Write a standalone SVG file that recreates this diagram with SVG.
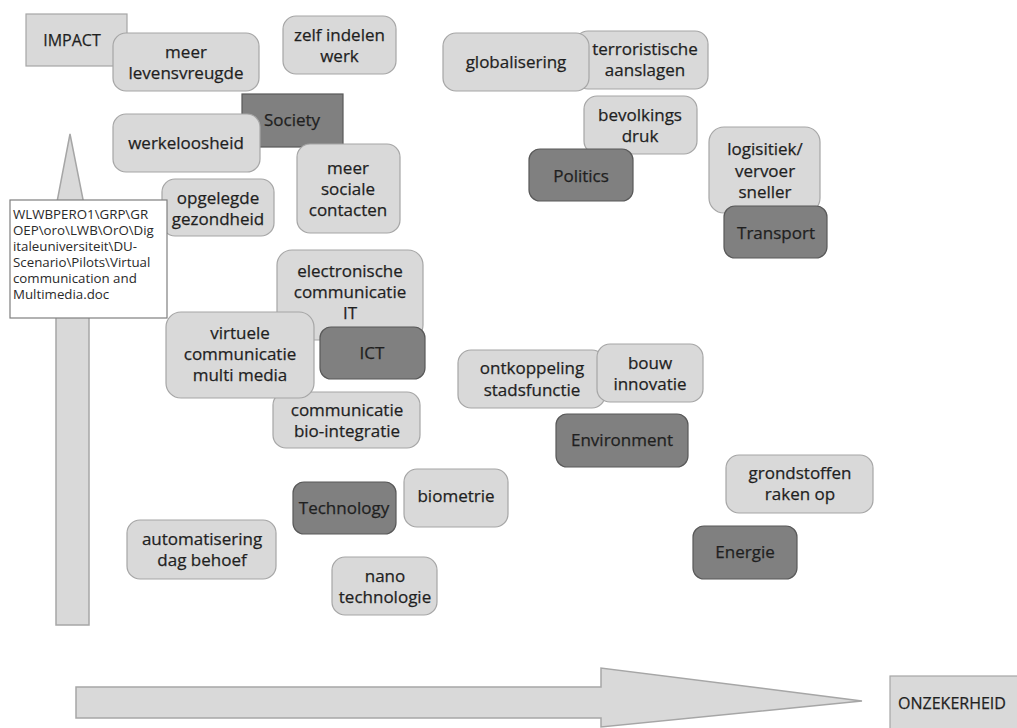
<svg xmlns="http://www.w3.org/2000/svg" width="1017" height="728" viewBox="0 0 1017 728">
  <style>
    .axis { fill: #d9d9d9; stroke: #a6a6a6; stroke-width: 1.5; }
    .lbl { fill: #d9d9d9; stroke: #a6a6a6; stroke-width: 1.2; }
    .lt { fill: #d9d9d9; stroke: #a6a6a6; stroke-width: 1.2; }
    .dk { fill: #808080; stroke: #595959; stroke-width: 1.2; }
    .note { fill: #ffffff; stroke: #7f7f7f; stroke-width: 1.2; }
    text { font-family: "Open Sans", "Liberation Sans", sans-serif; fill: #1f1f1f; stroke: #1f1f1f; stroke-width: 0.25; }
    .t { font-size: 17px; text-anchor: middle; }
    .cap { font-size: 16px; text-anchor: middle; }
    .nt { font-size: 13.3px; fill: #2a2a2a; stroke: none; }
  </style>

  <!-- axes: block arrows for impact (up) and uncertainty (right) -->
  <g id="axes">
    <path class="axis" d="M70,134 L44,270 L56,270 L56,625 L89,625 L89,270 L97,270 Z"/>
    <path class="axis" d="M76,687 L601,687 L601,668 L862,701 L601,727 L601,718 L76,718 Z"/>
  </g>

  <g id="impact">
    <rect class="lbl" x="26" y="14" width="101" height="52"/>
    <text class="cap" x="72" y="46">IMPACT</text>
  </g>
  <g id="onzekerheid">
    <rect class="lbl" x="890" y="676" width="140" height="60"/>
    <text class="cap" x="952" y="709" font-size="16.5">ONZEKERHEID</text>
  </g>

  <g id="meer-levensvreugde">
    <rect class="lt" x="113" y="33" width="146" height="58" rx="13"/>
    <text class="t"><tspan x="186" y="57.5">meer</tspan><tspan x="186" y="78.5">levensvreugde</tspan></text>
  </g>
  <g id="zelf-indelen-werk">
    <rect class="lt" x="283" y="16" width="113" height="58" rx="13"/>
    <text class="t"><tspan x="339.5" y="41">zelf indelen</tspan><tspan x="339.5" y="62">werk</tspan></text>
  </g>
  <g id="society">
    <rect class="dk" x="242" y="94" width="101" height="53"/>
    <text class="t" x="292" y="126">Society</text>
  </g>
  <g id="werkeloosheid">
    <rect class="lt" x="113" y="114" width="147" height="58" rx="13"/>
    <text class="t" x="186" y="149">werkeloosheid</text>
  </g>
  <g id="meer-sociale-contacten">
    <rect class="lt" x="297" y="144" width="103" height="89" rx="13"/>
    <text class="t"><tspan x="348" y="174">meer</tspan><tspan x="348" y="195">sociale</tspan><tspan x="348" y="216">contacten</tspan></text>
  </g>
  <g id="opgelegde-gezondheid">
    <rect class="lt" x="162" y="179" width="112" height="57" rx="13"/>
    <text class="t"><tspan x="218" y="203.5">opgelegde</tspan><tspan x="218" y="225">gezondheid</tspan></text>
  </g>

  <g id="terroristische-aanslagen">
    <rect class="lt" x="575" y="31" width="133" height="58" rx="13"/>
    <text class="t"><tspan x="645" y="55">terroristische</tspan><tspan x="645" y="76">aanslagen</tspan></text>
  </g>
  <g id="globalisering">
    <rect class="lt" x="443" y="33" width="146" height="58" rx="13"/>
    <text class="t" x="516" y="68">globalisering</text>
  </g>
  <g id="bevolkings-druk">
    <rect class="lt" x="584" y="96" width="113" height="58" rx="13"/>
    <text class="t"><tspan x="640" y="121">bevolkings</tspan><tspan x="640" y="142">druk</tspan></text>
  </g>
  <g id="politics">
    <rect class="dk" x="529" y="149" width="104" height="52" rx="11"/>
    <text class="t" x="581" y="182">Politics</text>
  </g>
  <g id="logistiek">
    <rect class="lt" x="709" y="127" width="111" height="86" rx="15"/>
    <text class="t"><tspan x="765" y="155">logisitiek/</tspan><tspan x="765" y="176.5">vervoer</tspan><tspan x="765" y="198">sneller</tspan></text>
  </g>
  <g id="transport">
    <rect class="dk" x="724" y="206" width="103" height="52" rx="11"/>
    <text class="t" x="776" y="239">Transport</text>
  </g>

  <g id="path-note">
    <rect class="note" x="10" y="200" width="157" height="118"/>
    <text class="nt"><tspan x="13" y="219">WLWBPERO1\GRP\GR</tspan><tspan x="13" y="235">OEP\oro\LWB\OrO\Dig</tspan><tspan x="13" y="251">italeuniversiteit\DU-</tspan><tspan x="13" y="267">Scenario\Pilots\Virtual</tspan><tspan x="13" y="283">communication and</tspan><tspan x="13" y="299">Multimedia.doc</tspan></text>
  </g>

  <g id="electronische-communicatie">
    <rect class="lt" x="277" y="250" width="146" height="90" rx="15"/>
    <text class="t"><tspan x="350" y="277">electronische</tspan><tspan x="350" y="298">communicatie</tspan><tspan x="350" y="319">IT</tspan></text>
  </g>
  <g id="communicatie-bio-integratie">
    <rect class="lt" x="273" y="392" width="147" height="56" rx="13"/>
    <text class="t"><tspan x="347" y="416">communicatie</tspan><tspan x="347" y="437">bio-integratie</tspan></text>
  </g>
  <g id="virtuele-communicatie">
    <rect class="lt" x="166" y="312" width="148" height="86" rx="15"/>
    <text class="t"><tspan x="240" y="339">virtuele</tspan><tspan x="240" y="360">communicatie</tspan><tspan x="240" y="381">multi media</tspan></text>
  </g>
  <g id="ict">
    <rect class="dk" x="320" y="327" width="105" height="52" rx="11"/>
    <text class="t" x="372" y="359">ICT</text>
  </g>

  <g id="ontkoppeling-stadsfunctie">
    <rect class="lt" x="458" y="350" width="147" height="58" rx="13"/>
    <text class="t"><tspan x="532" y="374">ontkoppeling</tspan><tspan x="532" y="395.5">stadsfunctie</tspan></text>
  </g>
  <g id="bouw-innovatie">
    <rect class="lt" x="597" y="344" width="106" height="58" rx="13"/>
    <text class="t"><tspan x="650" y="368.5">bouw</tspan><tspan x="650" y="390">innovatie</tspan></text>
  </g>
  <g id="environment">
    <rect class="dk" x="556" y="414" width="132" height="53" rx="11"/>
    <text class="t" x="622" y="446">Environment</text>
  </g>

  <g id="technology">
    <rect class="dk" x="293" y="482" width="103" height="52" rx="11"/>
    <text class="t" x="344" y="514">Technology</text>
  </g>
  <g id="biometrie">
    <rect class="lt" x="404" y="469" width="104" height="58" rx="13"/>
    <text class="t" x="456" y="502">biometrie</text>
  </g>
  <g id="automatisering">
    <rect class="lt" x="127" y="520" width="149" height="59" rx="13"/>
    <text class="t"><tspan x="202" y="545">automatisering</tspan><tspan x="202" y="566">dag behoef</tspan></text>
  </g>
  <g id="nano-technologie">
    <rect class="lt" x="332" y="557" width="105" height="58" rx="13"/>
    <text class="t"><tspan x="385" y="582">nano</tspan><tspan x="385" y="603">technologie</tspan></text>
  </g>

  <g id="grondstoffen">
    <rect class="lt" x="726" y="455" width="147" height="58" rx="13"/>
    <text class="t"><tspan x="800" y="479">grondstoffen</tspan><tspan x="800" y="500">raken op</tspan></text>
  </g>
  <g id="energie">
    <rect class="dk" x="693" y="526" width="104" height="53" rx="11"/>
    <text class="t" x="745" y="558">Energie</text>
  </g>

  <!-- the chart has no links between the nodes -->
  <g id="connectors"/>
</svg>
